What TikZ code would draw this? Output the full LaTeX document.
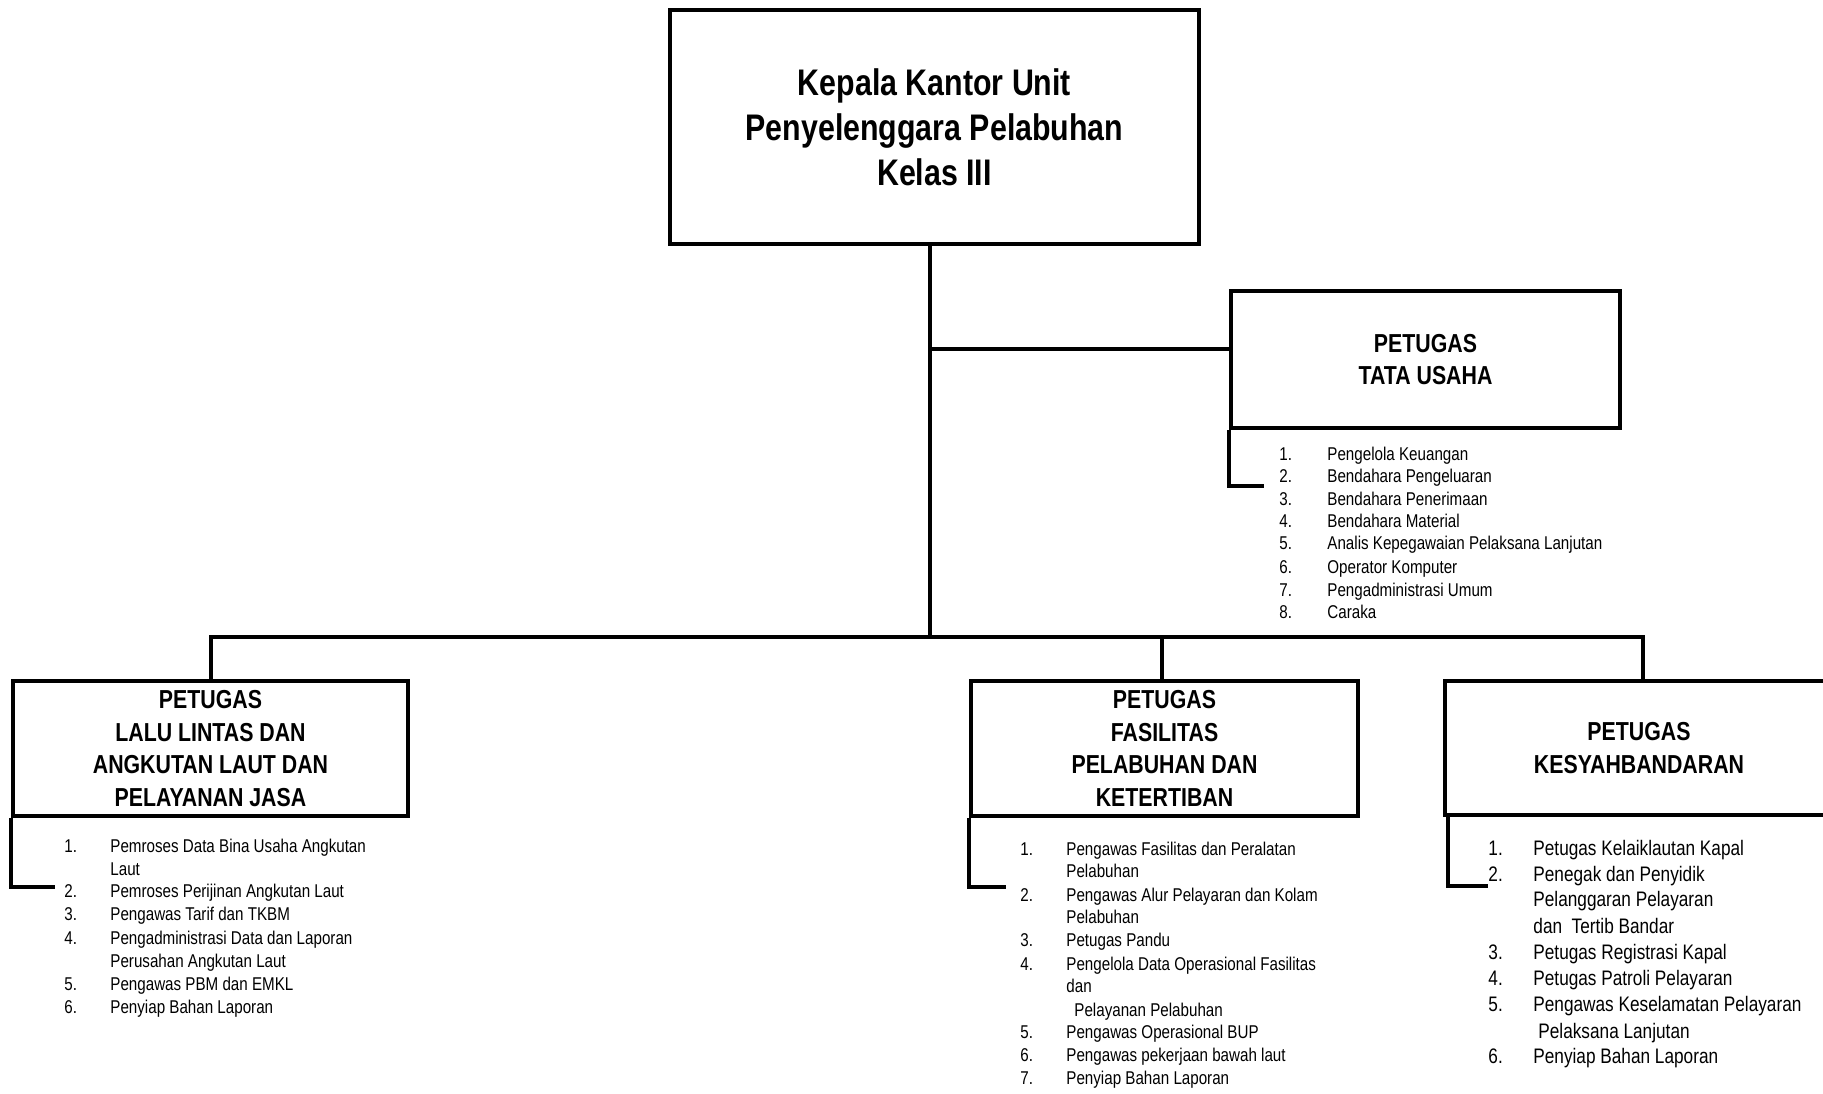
\documentclass[tikz,border=0pt]{standalone}
\usepackage{fontspec}
\setmainfont{Liberation Sans}
\newfontfamily\nar[FakeStretch=0.82]{Liberation Sans}
\begin{document}
\begin{tikzpicture}[x=0.5pt,y=-0.5pt,
  box/.style={draw, line width=2pt, inner sep=0pt, align=center},
  toptitle/.style={font=\nar\bfseries\fontsize{18.5pt}{22.5pt}\selectfont},
  boxtitle/.style={font=\nar\bfseries\fontsize{13pt}{16.25pt}\selectfont},
  conn/.style={line width=2pt},
  brk/.style={line width=1.8pt},
  itm/.style={anchor=base west, inner sep=0pt, font=\nar\fontsize{9.25pt}{11pt}\selectfont},
  itmb/.style={anchor=base west, inner sep=0pt, font=\nar\fontsize{10.5pt}{13pt}\selectfont}]
\clip (0,0) rectangle (1823,1093);
\fill[white] (0,0) rectangle (1823,1093);

% boxes
\node[box, toptitle, minimum width=264.5pt, minimum height=117pt] (top) at (934.5,127)
  {Kepala Kantor Unit\\Penyelenggara Pelabuhan\\Kelas III};
\node[box, boxtitle, minimum width=194.5pt, minimum height=68.5pt] (tata) at (1425.5,359.5)
  {PETUGAS\\TATA USAHA};
\node[box, boxtitle, minimum width=197.5pt, minimum height=67.5pt] (llaj) at (210.5,748.5)
  {PETUGAS\\LALU LINTAS DAN\\ANGKUTAN LAUT DAN\\PELAYANAN JASA};
\node[box, boxtitle, minimum width=193.5pt, minimum height=67.5pt] (fas) at (1164.5,748.5)
  {PETUGAS\\FASILITAS\\PELABUHAN DAN\\KETERTIBAN};
\node[box, boxtitle, minimum width=194pt, minimum height=67pt] (kesy) at (1639,748)
  {PETUGAS\\KESYAHBANDARAN};

% connectors
\coordinate (bus) at (930,637);
\coordinate (tk) at ([xshift=-2.25pt]top.south);
\coordinate (tj) at (930,349);
\coordinate (fd) at ([xshift=-1.5pt]fas.north);
\coordinate (kd) at ([xshift=2pt]kesy.north);
\draw[conn] (tk) -- (tk |- bus);
\draw[conn] (tj) -- (tj -| tata.west);
\draw[conn] (llaj.north) |- (kd |- bus) -- (kd);
\draw[conn] (fd) -- (fd |- bus);

% brackets
\coordinate (tub) at (1264,486);
\coordinate (llb) at (55,887);
\coordinate (fab) at (1006,887);
\coordinate (keb) at (1488,886);
\draw[brk] (tata.south west) |- (tub);
\draw[brk] (llaj.south west) |- (llb);
\draw[brk] (fas.south west) |- (fab);
\draw[brk] ([xshift=2.5pt]kesy.south west) |- (keb);

% Tata Usaha list
\foreach \yy/\nn [count=\i] in {460/1.,482/2.,505/3.,527/4.,549/5.,573/6.,596/7.,618/8.}
  \node[itm] (tun\i) at (1279,\yy) {\nn};
\foreach \yy/\txt [count=\i] in {460/Pengelola Keuangan,482/Bendahara Pengeluaran,
  505/Bendahara Penerimaan,527/Bendahara Material,549/Analis Kepegawaian Pelaksana Lanjutan,
  573/Operator Komputer,596/Pengadministrasi Umum,618/Caraka}
  \node[itm] (tut\i) at (1327,\yy) {\txt};

% LLAJ list
\foreach \yy/\nn [count=\i] in {852/1.,897/2.,920/3.,944/4.,990/5.,1013/6.}
  \node[itm] (lln\i) at (64,\yy) {\nn};
\foreach \yy/\txt [count=\i] in {852/Pemroses Data Bina Usaha Angkutan,875/Laut,
  897/Pemroses Perijinan Angkutan Laut,920/Pengawas Tarif dan TKBM,
  944/Pengadministrasi Data dan Laporan,967/Perusahan Angkutan Laut,
  990/Pengawas PBM dan EMKL,1013/Penyiap Bahan Laporan}
  \node[itm] (llt\i) at (110,\yy) {\txt};

% Fasilitas list
\foreach \yy/\nn [count=\i] in {855/1.,901/2.,946/3.,970/4.,1038/5.,1061/6.,1084/7.}
  \node[itm] (fan\i) at (1020,\yy) {\nn};
\foreach \yy/\txt [count=\i] in {855/Pengawas Fasilitas dan Peralatan,877/Pelabuhan,
  901/Pengawas Alur Pelayaran dan Kolam,923/Pelabuhan,946/Petugas Pandu,
  970/Pengelola Data Operasional Fasilitas,992/dan,
  1038/Pengawas Operasional BUP,1061/Pengawas pekerjaan bawah laut,1084/Penyiap Bahan Laporan}
  \node[itm] (fat\i) at (1066,\yy) {\txt};
\node[itm] (fat11) at (1074,1016) {Pelayanan Pelabuhan};

% Kesyahbandaran list
\foreach \yy/\nn [count=\i] in {855/1.,881/2.,959/3.,985/4.,1011/5.,1063/6.}
  \node[itmb] (ken\i) at (1488,\yy) {\nn};
\foreach \yy/\txt [count=\i] in {855/Petugas Kelaiklautan Kapal,881/Penegak dan Penyidik,
  906/Pelanggaran Pelayaran,933/dan~ Tertib Bandar,959/Petugas Registrasi Kapal,
  985/Petugas Patroli Pelayaran,1011/Pengawas Keselamatan Pelayaran,1063/Penyiap Bahan Laporan}
  \node[itmb] (ket\i) at (1533,\yy) {\txt};
\node[itmb] (ket9) at (1538,1038) {Pelaksana Lanjutan};
\end{tikzpicture}
\end{document}
